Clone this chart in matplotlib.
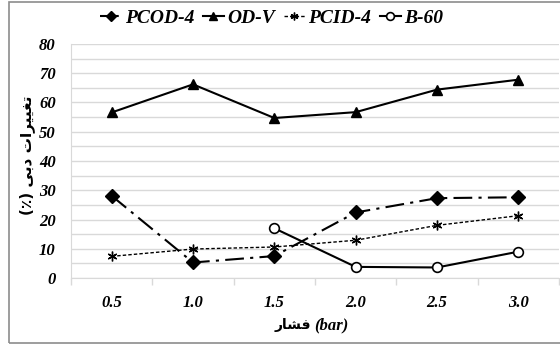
import matplotlib
matplotlib.use("Agg")
import matplotlib.pyplot as plt
from matplotlib.patches import Rectangle
import numpy as np

# category axis (pressure, bar)
pressure = ["0.5", "1.0", "1.5", "2.0", "2.5", "3.0"]
pcod4 = [28.1, 5.3, 7.5, 22.4, 27.3, 27.6]
odv = [56.6, 66.2, 54.7, 56.7, 64.4, 67.8]
pcid4 = [7.4, 9.9, 10.6, 12.9, 18.0, 21.3]
b60 = [np.nan, np.nan, 17.0, 3.8, 3.6, 9.0]

# Persian labels, pre-shaped (presentation forms, visual order)
xlab = "\uFEAD\uFE8E\uFEB8\uFED3"                      # فشار
ylab_a = "\uFE95\uFE8D\uFEAE\uFEF4\uFEF4\uFED0\uFE97"  # تغییرات
ylab_b = "\uFEF0\uFE91\uFEA9"                          # دبی

serif = ["Liberation Serif", "DejaVu Serif"]

fig = plt.figure(figsize=(5.6, 3.44), dpi=100, facecolor="white")
ax = fig.add_axes([71 / 560, 1 - 278 / 344, 488 / 560, 234 / 344])
x = np.arange(len(pressure))

ax.plot(x, pcod4, color="black", lw=1.5, dashes=(9, 3, 1.5, 3), marker="D",
        ms=7, mfc="black", label="PCOD-4")
ax.plot(x, odv, color="black", lw=1.5, marker="^", ms=7, mfc="black", label="OD-V")
ax.plot(x, pcid4, color="black", lw=1.0, dashes=(2.5, 1.5), marker=(6, 2, 0),
        ms=7, mew=1.0, label="PCID-4")
ax.plot(x, b60, color="black", lw=1.5, marker="o", ms=7, mfc="white", mew=1.2,
        label="B-60")

ax.set_xlim(-0.5, len(pressure) - 0.5)
ax.set_ylim(0, 80)
ax.set_yticks(np.arange(0, 81, 10))
ax.set_yticks(np.arange(5, 80, 10), minor=True)
ax.grid(axis="y", which="both", color="#d9d9d9", lw=1.0)
ax.set_axisbelow(True)
ax.set_xticks(x)
ax.set_xticklabels(pressure)
ax.set_xticks(np.arange(-0.5, len(pressure)), minor=True)
ax.tick_params(axis="x", which="major", length=0, pad=12)
ax.tick_params(axis="x", which="minor", length=5, color="#d9d9d9", width=1)
ax.tick_params(axis="y", which="both", length=0, pad=11)
for s in ["top", "right"]:
    ax.spines[s].set_visible(False)
for s in ["left", "bottom"]:
    ax.spines[s].set_color("#d9d9d9")
for lab in ax.get_xticklabels() + ax.get_yticklabels():
    lab.set_family(serif)
    lab.set_fontweight("bold")
    lab.set_fontstyle("italic")
    lab.set_fontsize(12)

leg = fig.legend(loc="center", bbox_to_anchor=(0.485, 0.948), ncol=4, frameon=False,
                 prop=dict(family=serif, weight="bold", style="italic", size=14),
                 handlelength=1.1, handletextpad=0.15, columnspacing=0.45,
                 markerscale=0.8)

ytxt = 1 - 325 / 344
fig.text(311 / 560, ytxt, xlab, ha="right", va="center",
         fontsize=10, fontweight="bold", family=["DejaVu Sans"])
fig.text(314 / 560, ytxt, "(bar)", ha="left", va="center",
         fontsize=12, fontweight="bold", fontstyle="italic", family=serif)
fig.text(27 / 560, 1 - 155 / 344, "(\u066A) " + ylab_b + " " + ylab_a, rotation=90,
         ha="center", va="center", fontsize=11, fontweight="bold",
         family=["DejaVu Sans"])

fig.patches.append(Rectangle((9 / 560, 1 / 344), 1.0, 341 / 344,
                             transform=fig.transFigure, fill=False,
                             ec="#8c8c8c", lw=1.2))

fig.savefig("out.png", dpi=100, facecolor="white")
